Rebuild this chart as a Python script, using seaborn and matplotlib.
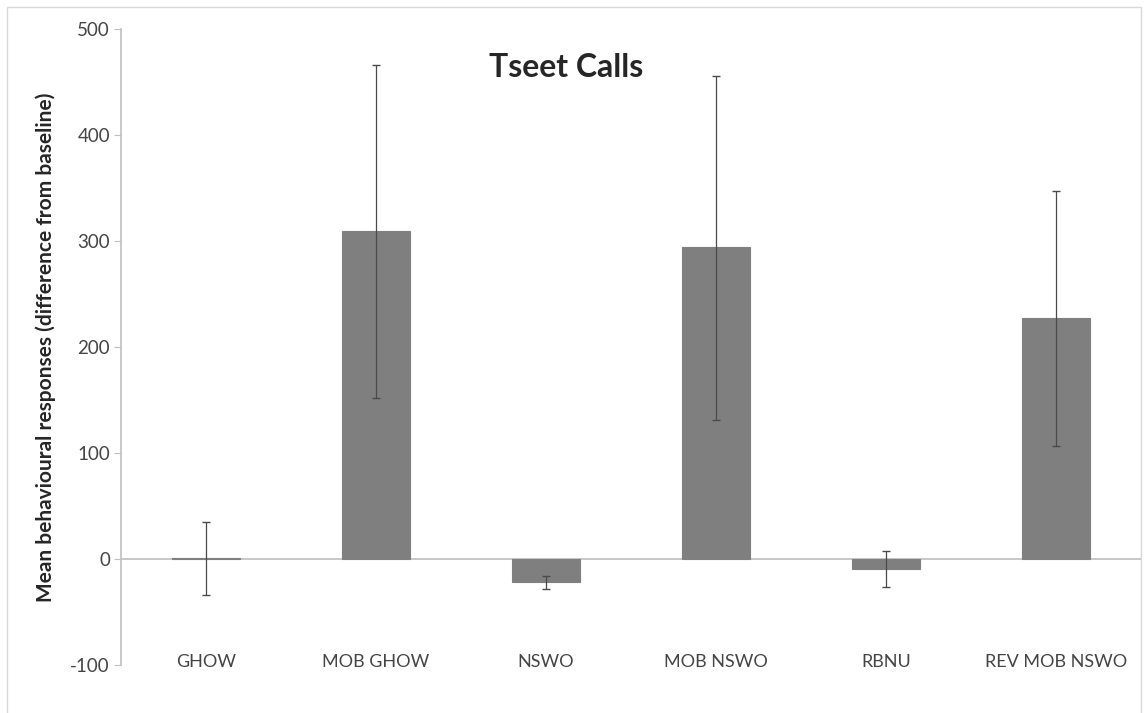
import numpy as np
import pandas as pd
import seaborn as sns
import matplotlib.pyplot as plt
from matplotlib.patches import Rectangle

# values
categories = ["GHOW", "MOB GHOW", "NSWO", "MOB NSWO", "RBNU", "REV MOB NSWO"]
means = [0.5, 309, -22, 294, -9.5, 227]
err_low = [34, 157, 6, 163, 17, 120]
err_high = [34, 157, 6, 162, 17, 120]
yticks = [-100, 0, 100, 200, 300, 400, 500]

df = pd.DataFrame({"group": categories, "mean": means})

sns.set_style("white")
plt.rcParams["font.family"] = ["Lato", "DejaVu Sans"]
plt.rcParams["axes.unicode_minus"] = False

fig = plt.figure(figsize=(11.46, 7.13), dpi=100)
ax = fig.add_axes([0.1056, 0.0673, 0.8900, 0.8920])

ax.axhline(0, color="#bfbfbf", lw=1.2, zorder=1)
sns.barplot(data=df, x="group", y="mean", color="#7f7f7f", width=0.4,
            errorbar=None, saturation=1, ax=ax, zorder=2,
            edgecolor="#7f7f7f", linewidth=0.8)
ax.errorbar(np.arange(len(categories)), means, yerr=[err_low, err_high],
            fmt="none", ecolor="#4a4a4a", elinewidth=0.9, capsize=3, zorder=3)

ax.set_ylim(-100, 500)
ax.set_xlim(-0.5, len(categories) - 0.5)
ax.set_yticks(yticks)

for s in ["top", "right", "bottom"]:
    ax.spines[s].set_visible(False)
ax.spines["left"].set_color("#bfbfbf")
ax.spines["left"].set_linewidth(1.2)

ax.tick_params(axis="y", direction="out", length=5, color="#bfbfbf",
               labelsize=13.5, labelcolor="#454545", pad=3, left=True)
ax.tick_params(axis="x", length=0, labelsize=13, labelcolor="#454545", pad=-8)

ax.set_xlabel("")
ax.set_ylabel("Mean behavioural responses (difference from baseline)",
              fontsize=15, fontweight="bold", labelpad=10)
ax.text(0.436, 0.94, "Tseet Calls", transform=ax.transAxes,
        ha="center", va="center", fontsize=23, fontweight="bold")

# chart frame
fig.patches.append(Rectangle((0.006, -0.01), 0.99, 1.0, transform=fig.transFigure,
                             fill=False, edgecolor="#d9d9d9", lw=1))

fig.savefig("out.png", dpi=100)
